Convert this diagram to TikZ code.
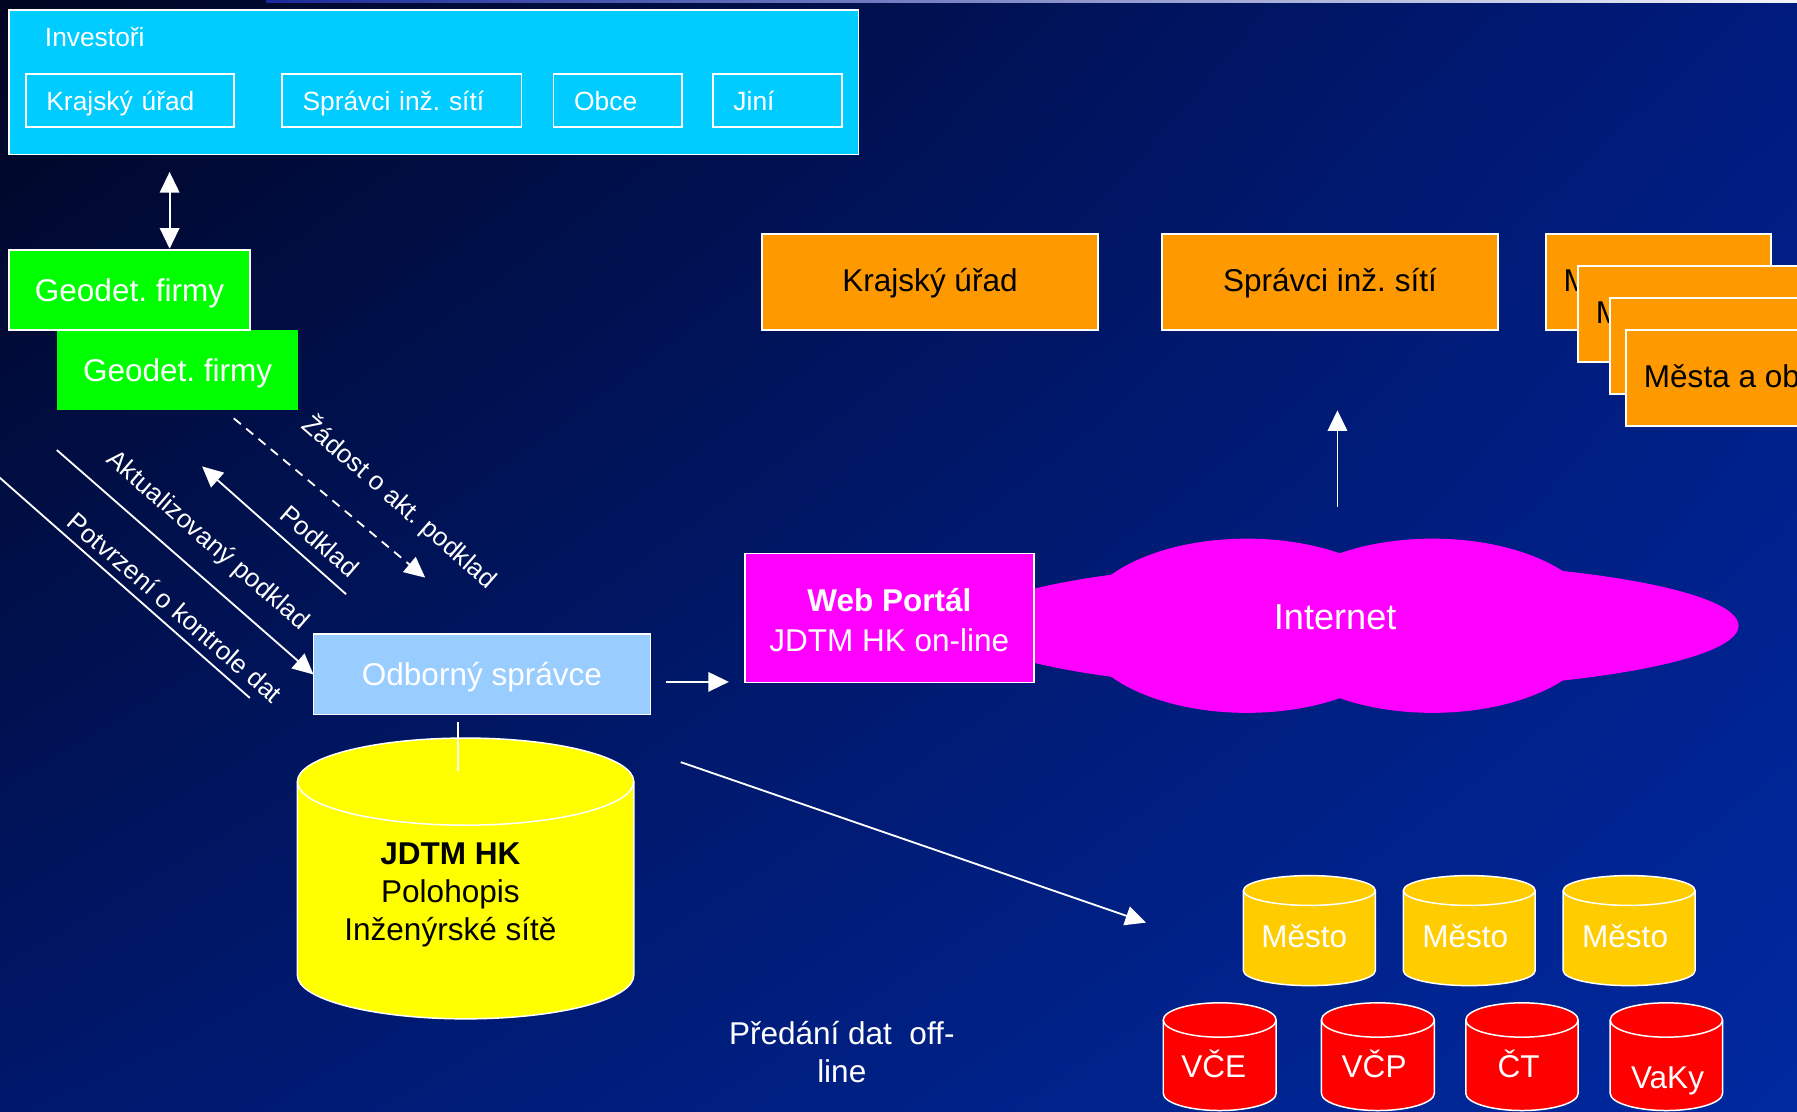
\documentclass[tikz,border=0pt]{standalone}
\usepackage{fontspec}
\setmainfont{Liberation Sans}
\usetikzlibrary{arrows.meta,shadings}
\definecolor{bgUL}{HTML}{000520}
\definecolor{bgUR}{HTML}{001B7E}
\definecolor{bgLL}{HTML}{00186C}
\definecolor{bgLR}{HTML}{0029A0}
\definecolor{stripL}{HTML}{1A2A9A}
\definecolor{stripR}{HTML}{F4F5FA}
\definecolor{cyanI}{HTML}{00CCFF}
\definecolor{greenG}{HTML}{00FF00}
\definecolor{orangeO}{HTML}{FF9900}
\definecolor{blueOS}{HTML}{99CCFF}
\definecolor{magW}{HTML}{FF00FF}
\definecolor{yelC}{HTML}{FFFF00}
\definecolor{goldM}{HTML}{FFCC00}
\definecolor{redC}{HTML}{FF0000}
\newcommand{\FBig}{\fontsize{27.5pt}{33pt}\selectfont}
\newcommand{\FSm}{\fontsize{23pt}{27pt}\selectfont}
\newcommand{\FDiag}{\fontsize{22.6pt}{26pt}\selectfont}
\newcommand{\FNet}{\fontsize{31.5pt}{36pt}\selectfont}
\newcommand{\DrawCyl}[6]{%
 \pgfmathsetmacro{\cyA}{(#1+#2)/2}%
 \pgfmathsetmacro{\cyR}{(#2-#1)/2}%
 \pgfmathsetmacro{\cyKx}{0.5523*\cyR}%
 \pgfmathsetmacro{\cyKy}{0.5523*#5}%
 \filldraw[fill=#6, cylline] (#1,#3) -- (#1,#4) .. controls (#1,#4+\cyKy) and (\cyA-\cyKx,#4+#5) .. (\cyA,#4+#5) .. controls (\cyA+\cyKx,#4+#5) and (#2,#4+\cyKy) .. (#2,#4) -- (#2,#3) .. controls (#2,#3-\cyKy) and (\cyA+\cyKx,#3-#5) .. (\cyA,#3-#5) .. controls (\cyA-\cyKx,#3-#5) and (#1,#3-\cyKy) .. cycle;
 \draw[cylline] (#1,#3) .. controls (#1,#3+\cyKy) and (\cyA-\cyKx,#3+#5) .. (\cyA,#3+#5) .. controls (\cyA+\cyKx,#3+#5) and (#2,#3+\cyKy) .. (#2,#3);
}
\tikzset{
 cylline/.style={draw=white, line width=1.3pt},
 wline/.style={draw=white, line width=1.6pt},
 warr/.style={wline, -{Triangle[width=17pt,length=18pt]}},
 wdarr/.style={wline, {Triangle[width=17pt,length=18pt]}-{Triangle[width=17pt,length=18pt]}},
 bx/.style={draw=white, line width=1.5pt, anchor=north west, inner sep=0pt, outer sep=0pt},
 capB/.style={text height=19.7pt, text depth=0pt},
 ibox/.style={bx, minimum height=46.5pt, font=\FSm, text=white, align=left, inner xsep=18pt, text height=16.5pt, text depth=0pt},
 obx/.style={bx, fill=orangeO, text=black, font=\FBig, minimum height=84pt, text height=16pt, text depth=0pt},
 txt/.style={text=white, inner sep=0pt},
 diag/.style={txt, font=\FDiag, rotate=-41},
}
\begin{document}
\frenchspacing
\begin{tikzpicture}[x=1pt,y=-1pt]
\useasboundingbox (0,0) rectangle (1568,970);
\clip (0,0) rectangle (1568,970);
\shade[upper left=bgUL, upper right=bgUR, lower left=bgLL, lower right=bgLR] (0,0) rectangle (1568,970);
\shade[left color=stripL, right color=stripR] (232,0) rectangle (1568,2.6);

% Investori
\node[bx, fill=cyanI, minimum width=741pt, minimum height=126pt] (inv) at (8,8.7) {};
\node[txt, anchor=west, font=\FSm] (invL) at (39,32.5) {Investoři};
\node[ibox, minimum width=181.5pt, text width=145.5pt] (iKU) at (22.5,64.6) {Krajský úřad};
\node[ibox, minimum width=209pt, text width=173pt] (iSIS) at (246,64.6) {Správci inž. sítí};
\node[ibox, minimum width=112pt, text width=76pt] (iObce) at (483,64.6) {Obce};
\node[ibox, minimum width=113pt, text width=77pt] (iJini) at (622,64.6) {Jiní};

% Geodet. firmy
\node[bx, draw=none, fill=greenG, minimum width=210pt, minimum height=70pt, font=\FBig, text=white, capB] (geo2) at (50,288) {Geodet. firmy};
\node[bx, fill=greenG, minimum width=210pt, minimum height=70pt, font=\FBig, text=white, capB] (geo1) at (8,218) {Geodet. firmy};
\coordinate (dA) at (148,150);
\coordinate (dB) at (148,217);
\draw[wdarr] (dA) -- (dB);

% orange boxes
\node[obx, minimum width=293pt] (oKU) at (665,204) {Krajský úřad};
\node[obx, minimum width=293pt] (oSIS) at (1014,204) {Správci inž. sítí};
\node[obx, minimum width=196pt] (oMA) at (1349,204) {Města a obce};
\node[obx, minimum width=196pt] (oMB) at (1377,232) {Města a obce};
\node[obx, minimum width=196pt] (oMC) at (1405,260) {Města a obce};
\node[obx, minimum width=196pt] (oMD) at (1419,288) {Města a obce};

% Internet cloud
\fill[magW] (1180,546) ellipse [x radius=337pt, y radius=57pt];
\fill[magW] (1088,546) ellipse [x radius=146pt, y radius=76pt];
\fill[magW] (1250,546) ellipse [x radius=146pt, y radius=76pt];
\node[txt, font=\FNet] (inet) at (1165,539) {Internet};
\coordinate (upA) at (1167,442);
\coordinate (upB) at (1167,358);
\draw[warr] (upA) -- (upB);

% Web portal
\node[bx, fill=magW, minimum width=252pt, minimum height=112.5pt, text=white, font=\FBig, align=center] (web) at (650,483) {};
\node[txt, font=\FBig, align=center] (webT) at (776,541) {\textbf{Web Portál}\\[2pt]JDTM HK on-line};

% Odborny spravce
\node[bx, fill=blueOS, minimum width=294pt, minimum height=70pt, text=white, font=\FBig, capB] (odb) at (273.5,553.5) {Odborný správce};
\coordinate (wA) at (581,595);
\coordinate (wB) at (636,595);
\draw[warr] (wA) -- (wB);

% big cylinder
\DrawCyl{259.5}{553}{682}{851}{38}{yelC}
\node[text=black, inner sep=0pt, font=\FBig, align=center] (jdtm) at (393,781) {\textbf{JDTM HK}\\[0.5pt]Polohopis\\Inženýrské sítě};
\coordinate (vA) at (399.5,630);
\coordinate (vB) at (399.5,673);
\draw[wline, line width=1.3pt] (vA) -- (vB);

% diagonal flows
\coordinate (potA) at (-5,412.6);
\coordinate (potB) at (218,609);
\draw[wline] (potA) -- (potB);
\coordinate (aktA) at (49.6,392.7);
\draw[warr] (aktA) -- (odb.west);
\coordinate (podA) at (302,518.5);
\coordinate (podB) at (176.4,407);
\draw[warr] (podA) -- (podB);
\coordinate (zadA) at (204,365);
\coordinate (zadB) at (371,504);
\draw[warr, dash pattern=on 8pt off 6pt] (zadA) -- (zadB);
\node[diag] (lZad) at (349,438) {Žádost o akt. podklad};
\node[diag] (lPod) at (279,472) {Podklad};
\node[diag] (lAkt) at (181,472) {Aktualizovaný podklad};
\node[diag] (lPot) at (153,530) {Potvrzení o kontrole dat};

% offline transfer
\coordinate (oA) at (594,665);
\coordinate (oB) at (1000,805);
\draw[warr] (oA) -- (oB);
\node[txt, font=\FBig, align=center] (pred) at (734.5,918) {Předání dat\ \ off-\\line};

% Mesto cylinders
\DrawCyl{1085}{1200}{777}{847}{13}{goldM}
\DrawCyl{1224.5}{1339.5}{777}{847}{13}{goldM}
\DrawCyl{1364}{1479}{777}{847}{13}{goldM}
\node[txt, font=\FBig] (m1) at (1138,817) {Město};
\node[txt, font=\FBig] (m2) at (1278.5,817) {Město};
\node[txt, font=\FBig] (m3) at (1418,817) {Město};

% red cylinders
\DrawCyl{1015}{1113.5}{890}{954}{15}{redC}
\DrawCyl{1153}{1251.5}{890}{954}{15}{redC}
\DrawCyl{1279}{1377}{890}{954}{15}{redC}
\DrawCyl{1405}{1503}{890}{954}{15}{redC}
\node[txt, font=\FBig] (r1) at (1059,928) {VČE};
\node[txt, font=\FBig] (r2) at (1199,928) {VČP};
\node[txt, font=\FBig] (r3) at (1325,928) {ČT};
\node[txt, font=\FBig] (r4) at (1455,943) {VaKy};
\end{tikzpicture}
\end{document}
